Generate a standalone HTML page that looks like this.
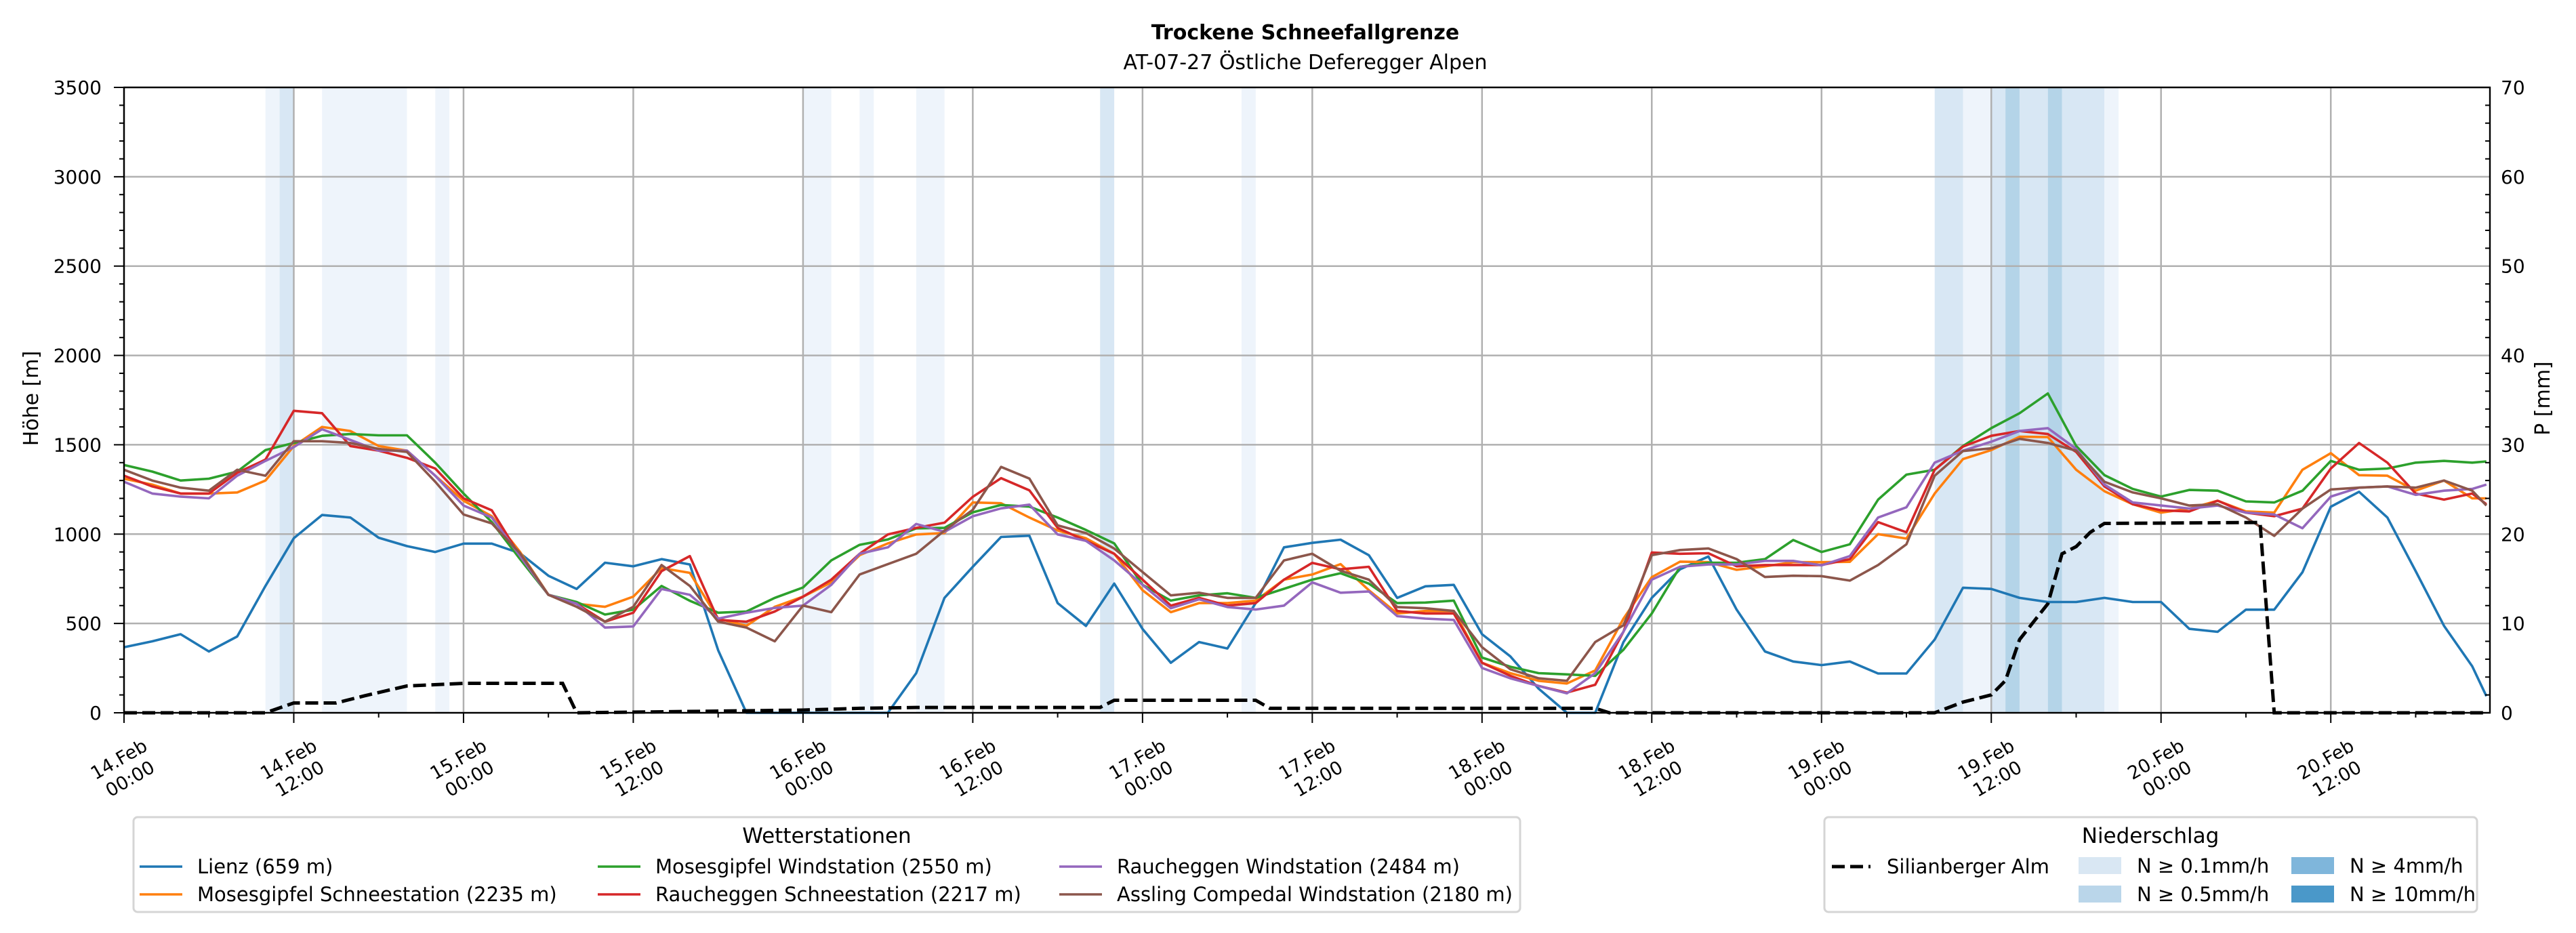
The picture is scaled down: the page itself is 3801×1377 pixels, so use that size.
<!DOCTYPE html>
<html><head><meta charset="utf-8"><style>
html,body{margin:0;padding:0;background:#fff;}
svg{display:block;font-family:"DejaVu Sans","Liberation Sans",sans-serif;}
</style></head><body>
<svg id="chart" width="3801" height="1377" viewBox="0 0 3801 1377" xmlns="http://www.w3.org/2000/svg">
<text x="1926" y="58" text-anchor="middle" font-weight="bold" font-size="30">Trockene Schneefallgrenze</text>
<text x="1926" y="102" text-anchor="middle" font-size="30">AT-07-27 Östliche Deferegger Alpen</text>
<g id="bands"></g><g id="grid"></g><g id="series"></g><g id="axes"></g><g id="legends"></g>
</svg>
<script>
const hours=[0,2,4,6,8,10,12,14,16,18,20,22,24,26,28,30,32,34,36,38,40,42,44,46,48,50,52,54,56,58,60,62,64,66,68,70,72,74,76,78,80,82,84,86,88,90,92,94,96,98,100,102,104,106,108,110,112,114,116,118,120,122,124,126,128,130,132,134,136,138,140,142,144,146,148,150,152,154,156,158,160,162,164,166,167];
const lienz=[367,400,440,343,427,710,977,1107,1093,980,933,900,947,947,893,767,693,840,820,860,830,350,0,0,0,0,0,0,222,643,817,984,991,614,486,723,469,280,396,360,614,926,951,969,882,643,708,716,440,316,135,0,0,396,643,803,875,577,343,287,267,287,220,220,410,700,693,643,620,620,643,620,620,470,453,577,577,787,1153,1237,1093,793,487,260,93];
const mosesSchnee=[1310,1277,1227,1227,1233,1300,1493,1600,1577,1493,1467,1327,1187,1100,900,660,610,593,650,810,783,527,487,593,650,730,882,948,998,1006,1177,1173,1093,1020,977,890,686,563,614,614,628,745,774,832,686,556,570,570,280,222,179,164,237,527,759,846,843,800,820,843,843,845,1000,975,1227,1420,1470,1545,1543,1360,1240,1167,1120,1143,1187,1127,1120,1360,1453,1330,1327,1243,1300,1200,1200];
const mosesWind=[1387,1350,1300,1310,1350,1470,1510,1550,1560,1553,1553,1400,1227,1067,860,660,620,550,577,710,627,560,567,643,701,853,940,970,1032,1035,1122,1163,1154,1093,1023,948,716,628,657,669,643,694,745,781,723,614,617,628,309,258,222,215,207,353,556,817,840,840,860,967,900,943,1193,1333,1360,1493,1593,1677,1787,1493,1330,1253,1210,1247,1243,1183,1177,1243,1410,1360,1367,1400,1410,1400,1407];
const rauchSchnee=[1327,1267,1227,1227,1343,1417,1690,1677,1493,1467,1427,1367,1200,1133,877,660,610,510,560,793,877,520,510,567,650,745,890,998,1035,1064,1209,1313,1245,1035,962,890,745,600,643,600,614,745,839,803,817,570,556,556,280,207,150,113,157,454,897,890,893,820,827,827,827,860,1067,1010,1360,1490,1550,1577,1560,1460,1267,1167,1133,1127,1187,1120,1100,1143,1367,1510,1400,1227,1193,1227,1167];
const rauchWind=[1293,1227,1210,1200,1327,1410,1487,1587,1527,1467,1467,1327,1160,1093,877,660,610,477,483,693,660,527,560,587,600,716,890,926,1057,1013,1100,1144,1165,998,962,853,716,585,635,592,578,600,730,672,679,541,527,520,251,193,150,109,222,454,745,817,830,830,850,850,825,877,1093,1150,1400,1467,1517,1577,1593,1477,1277,1177,1160,1143,1160,1120,1110,1033,1210,1260,1267,1220,1243,1253,1277];
const assling=[1360,1300,1260,1243,1360,1327,1520,1520,1510,1477,1460,1293,1110,1060,893,660,593,510,593,827,710,510,477,400,600,563,774,832,890,1020,1136,1376,1311,1049,1006,919,788,657,672,643,643,853,890,795,745,592,585,570,367,244,193,179,396,490,882,911,920,860,760,767,765,740,827,943,1327,1465,1480,1533,1510,1467,1293,1233,1200,1160,1167,1093,990,1143,1250,1260,1267,1260,1300,1243,1160];
const silHours=[0,10,12,15,17,20,24,31,32,48,50,52,56,69,70,80,81,104,105,128,130,132,133,134,135,136,137,138,139,140,151,152,167];
const silMm=[0,0,1.1,1.1,1.9,3.0,3.3,3.3,0,0.3,0.4,0.5,0.6,0.6,1.4,1.4,0.5,0.5,0,0,1.2,2.0,3.6,8.2,10.2,12.2,17.8,18.6,20.2,21.2,21.3,0,0];
const bandStart=[10,11,14,22,48,52,56,69,79,128,130,132,133,134,136,137,140];
const bandEnd=[11,12,20,23,50,53,58,70,80,130,132,133,134,136,137,140,141];
const bandLevel=[1,2,1,1,1,1,1,2,1,2,1,2,3,2,3,2,1];
const yTicks=[0,500,1000,1500,2000,2500,3000,3500];
const pTicks=[0,10,20,30,40,50,60,70];
const xTickHours=[0,12,24,36,48,60,72,84,96,108,120,132,144,156];
const xTickDay=["14.Feb","14.Feb","15.Feb","15.Feb","16.Feb","16.Feb","17.Feb","17.Feb","18.Feb","18.Feb","19.Feb","19.Feb","20.Feb","20.Feb"];
const xTickTime=["00:00","12:00","00:00","12:00","00:00","12:00","00:00","12:00","00:00","12:00","00:00","12:00","00:00","12:00"];

const NS="http://www.w3.org/2000/svg";
const L=183,R=3674,T=129,B=1052,HMAX=167.25;
const X=h=>L+h*(R-L)/HMAX;
const Y=m=>B-m*(B-T)/3500;
const YP=p=>B-p*(B-T)/70;
function mk(tag,attrs,parent){const e=document.createElementNS(NS,tag);for(const k in attrs)e.setAttribute(k,attrs[k]);parent.appendChild(e);return e;}
const gB=document.getElementById('bands'),gG=document.getElementById('grid'),gS=document.getElementById('series'),gA=document.getElementById('axes'),gL=document.getElementById('legends');
const bandCol={1:'#eef4fb',2:'#d8e7f4',3:'#b4d4e8'};
bandStart.forEach((s,i)=>{
  const r=mk('rect',{x:X(s),y:T,width:X(bandEnd[i])-X(s),height:B-T,fill:bandCol[bandLevel[i]]},gB);
  
  
});
xTickHours.forEach(h=>{
  const l=mk('line',{x1:X(h),x2:X(h),y1:T,y2:B,stroke:'#b0b0b0','stroke-width':2.5},gG);
  
  
});
yTicks.forEach(v=>{
  const l=mk('line',{x1:L,x2:R,y1:Y(v),y2:Y(v),stroke:'#b0b0b0','stroke-width':2.5},gG);
  
  
});
const colors={lienz:'#1f77b4',ms:'#ff7f0e',mw:'#2ca02c',rs:'#d62728',rw:'#9467bd',as:'#8c564b'};
function line(vals,col,name){
  const d=vals.map((v,i)=>(i?'L':'M')+X(hours[i]).toFixed(1)+','+Y(v).toFixed(1)).join('');
  const p=mk('path',{d:d,fill:'none',stroke:col,'stroke-width':3.6,'stroke-linejoin':'round'},gS);
  
  
}
line(lienz,colors.lienz,'series-lienz');
line(mosesSchnee,colors.ms,'series-mosesgipfel-schneestation');
line(mosesWind,colors.mw,'series-mosesgipfel-windstation');
line(rauchSchnee,colors.rs,'series-raucheggen-schneestation');
line(rauchWind,colors.rw,'series-raucheggen-windstation');
line(assling,colors.as,'series-assling-compedal');
{
  const d=silHours.map((h,i)=>(i?'L':'M')+X(h).toFixed(1)+','+YP(silMm[i]).toFixed(1)).join('');
  const p=mk('path',{d:d,fill:'none',stroke:'#000','stroke-width':5,'stroke-dasharray':'19,8'},gS);
  
  
}
const fr=mk('rect',{x:L,y:T,width:R-L,height:B-T,fill:'none',stroke:'#000','stroke-width':2.4},gA);


for(let m=0;m<=3500;m+=100){
  const major=m%500===0;
  mk('line',{x1:L-(major?15:7),x2:L,y1:Y(m),y2:Y(m),stroke:'#000','stroke-width':2},gA);
}
yTicks.forEach(v=>{
  const t=mk('text',{x:L-33,y:Y(v)+10,'text-anchor':'end','font-size':28},gA);
  t.textContent=v;
  
  
});
for(let p=0;p<=70;p+=2){
  if(p%10===0) continue;
  mk('line',{x1:R-7,x2:R,y1:YP(p),y2:YP(p),stroke:'#000','stroke-width':2},gA);
}
pTicks.forEach(v=>{
  const t=mk('text',{x:R+16,y:YP(v)+10,'font-size':28},gA);
  t.textContent=v;
  
  
});
for(let h=0;h<=166;h+=6){
  const major=h%12===0;
  mk('line',{x1:X(h),x2:X(h),y1:B,y2:B+(major?15:7),stroke:'#000','stroke-width':2},gA);
}
xTickHours.forEach((h,i)=>{
  const g=mk('g',{transform:`translate(${X(h)},1134) rotate(-30)`},gA);
  
  
  const a=mk('text',{x:0,y:-6,'text-anchor':'middle','font-size':27},g);a.textContent=xTickDay[i];
  const b=mk('text',{x:0,y:27,'text-anchor':'middle','font-size':27},g);b.textContent=xTickTime[i];
});
{
  const t=mk('text',{transform:'translate(56,588) rotate(-90)','text-anchor':'middle','font-size':30},gA);
  t.textContent='Höhe [m]';
  
  
  const t2=mk('text',{transform:'translate(3762,588) rotate(-90)','text-anchor':'middle','font-size':30},gA);
  t2.textContent='P [mm]';
  
  
}
function box(x,y,w,h,name){
  const r=mk('rect',{x:x,y:y,width:w,height:h,rx:6,fill:'#fff',stroke:'#d5d5d5','stroke-width':3},gL);
  
  
}
function txt(x,y,s,size,anchor,name){
  const t=mk('text',{x:x,y:y,'font-size':size,'text-anchor':anchor||'start'},gL);
  t.textContent=s;
  
  
}
box(197,1206,2046,140,'stations-legend');
txt(1220,1244,'Wetterstationen',31,'middle','stations-legend-title');
const legItems=[['Lienz (659 m)',colors.lienz,206,1279],['Mosesgipfel Schneestation (2235 m)',colors.ms,206,1320],['Mosesgipfel Windstation (2550 m)',colors.mw,882,1279],['Raucheggen Schneestation (2217 m)',colors.rs,882,1320],['Raucheggen Windstation (2484 m)',colors.rw,1563,1279],['Assling Compedal Windstation (2180 m)',colors.as,1563,1320]];
legItems.forEach(it=>{
  mk('line',{x1:it[2],x2:it[2]+63,y1:it[3],y2:it[3],stroke:it[1],'stroke-width':3.6},gL);
  txt(it[2]+85,it[3]+10,it[0],29,'start','legend-entry');
});
box(2692,1206,963,140,'precip-legend');
txt(3173,1244,'Niederschlag',31,'middle','precip-legend-title');
mk('line',{x1:2703,x2:2760,y1:1279,y2:1279,stroke:'#000','stroke-width':5,'stroke-dasharray':'19,8'},gL);
txt(2784,1289,'Silianberger Alm',29,'start','legend-entry-silianberger');
const pItems=[['N ≥ 0.1mm/h','#d9e7f3',3067,1277],['N ≥ 0.5mm/h','#bad6ea',3067,1319],['N ≥ 4mm/h','#7fb6db',3381,1277],['N ≥ 10mm/h','#4a98c9',3381,1319]];
pItems.forEach(it=>{
  mk('rect',{x:it[2],y:it[3]-12,width:63,height:25,fill:it[1]},gL);
  txt(it[2]+86,it[3]+11,it[0],29,'start','legend-entry-precip');
});
</script>
</body></html>
